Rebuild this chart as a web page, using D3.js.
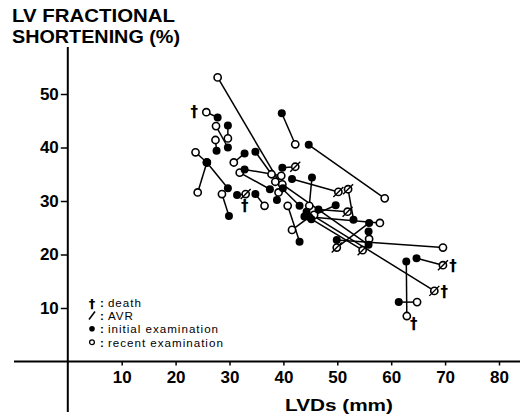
<!DOCTYPE html>
<html>
<head>
<meta charset="utf-8">
<script src="https://cdn.jsdelivr.net/npm/d3@7"></script>
<style>
  body { margin: 0; background: #fff; }
  svg { display: block; }
  .tick text { font-family: "Liberation Sans Narrow", "Liberation Sans", sans-serif; font-weight: bold; font-size: 17px; }
</style>
</head>
<body>
<script>
// LVDs (mm) and fractional shortening (%) per patient
const initialX = [39.9, 27.8, 29.7, 29.7, 27.6, 25.8, 29.7, 25.8, 29.9, 31.4, 34.8, 32.8, 34.8, 32.8, 37.5, 43.0, 55.8, 38.8, 39.7,
  44.7, 39.8, 41.6, 45.3, 53.0, 46.5, 49.7, 55.9, 43.9, 55.8, 45.2, 44.3, 44.8, 43.0, 64.7, 62.8, 61.4, 49.9];
const initialY = [32.4, 45.6, 40.0, 44.1, 39.4, 37.2, 32.4, 37.2, 27.2, 31.1, 31.3, 38.9, 39.2, 35.9, 32.2, 29.1, 21.8, 30.2, 46.4,
  40.5, 36.2, 34.1, 34.4, 26.5, 28.4, 29.2, 25.9, 27.1, 24.3, 26.6, 28.0, 27.0, 22.4, 19.3, 18.7, 11.1, 22.7];
const recentX = [27.8, 25.7, 27.5, 29.7, 27.4, 23.7, 25.8, 24.1, 28.6, 33.0, 36.5, 30.8, 37.8, 39.6, 31.9, 38.5, 39.8, 39.1, 42.2,
  58.8, 42.2, 50.2, 44.8, 52.0, 51.9, 45.7, 49.9, 57.9, 55.9, 54.7, 68.0, 41.6, 40.8, 69.6, 62.9, 64.8, 69.6];
const recentY = [53.1, 46.6, 44.0, 41.7, 41.4, 39.1, 37.2, 31.6, 31.3, 31.3, 29.1, 37.2, 35.0, 34.7, 35.3, 33.6, 33.1, 31.6, 40.6,
  30.5, 36.4, 31.7, 29.1, 32.2, 28.0, 27.4, 21.3, 25.9, 22.9, 20.8, 13.2, 24.6, 29.1, 18.0, 8.5, 11.1, 21.3];
// patient indices with aortic valve replacement / death
const avrPatients = [9, 20, 21, 23, 24, 26, 29, 30, 33];
const deathPatients = [1, 9, 30, 33, 34];

const xTicks = [10, 20, 30, 40, 50, 60, 70, 80];
const yTicks = [10, 20, 30, 40, 50];
const titleLines = ["LV FRACTIONAL", "SHORTENING (%)"];
const xTitle = "LVDs (mm)";
const legendItems = ["death", "AVR", "initial examination", "recent examination"];

const W = 525, H = 415;
const svg = d3.select("body").append("svg").attr("width", W).attr("height", H);

const x = d3.scaleLinear().domain([0, 80]).range([67.8, 499]);
const y = d3.scaleLinear().domain([0, 50]).range([361.5, 94]);

/* ** AXES ** */
svg.append("line").attr("x1", 14).attr("x2", 520).attr("y1", y(0)).attr("y2", y(0))
  .attr("stroke", "#000").attr("stroke-width", 2);
svg.append("line").attr("x1", x(0)).attr("x2", x(0)).attr("y1", 47).attr("y2", 412)
  .attr("stroke", "#000").attr("stroke-width", 2);

const gx = svg.append("g").attr("transform", `translate(0,${y(0)})`)
  .call(d3.axisBottom(x).tickValues(xTicks).tickSize(4).tickPadding(5));
const gy = svg.append("g").attr("transform", `translate(${x(0)},0)`)
  .call(d3.axisLeft(y).tickValues(yTicks).tickSize(7).tickPadding(2));
[gx, gy].forEach(g => {
  g.select(".domain").remove();
  g.selectAll(".tick line").attr("stroke-width", 1.5);
});

/* ** TITLES ** */
svg.selectAll(".ytitle").data(titleLines).enter().append("text")
  .attr("class", "ytitle")
  .attr("x", 12).attr("y", (d, i) => 22 + i * 20.5)
  .attr("textLength", (d, i) => i ? 168 : 163).attr("lengthAdjust", "spacingAndGlyphs")
  .attr("font-family", "Liberation Sans, sans-serif").attr("font-weight", "bold").attr("font-size", 18)
  .text(d => d);

svg.append("text").attr("x", 285).attr("y", 411)
  .attr("textLength", 108).attr("lengthAdjust", "spacingAndGlyphs")
  .attr("font-family", "Liberation Sans, sans-serif").attr("font-weight", "bold").attr("font-size", 17)
  .text(xTitle);

/* ** DATA ** */
const patients = initialX.map((d, i) => ({
  x0: initialX[i], y0: initialY[i], x1: recentX[i], y1: recentY[i],
  avr: avrPatients.includes(i), death: deathPatients.includes(i), i
}));

svg.append("g").selectAll("line").data(patients).enter().append("line")
  .attr("x1", d => x(d.x0)).attr("y1", d => y(d.y0))
  .attr("x2", d => x(d.x1)).attr("y2", d => y(d.y1))
  .attr("stroke", "#000").attr("stroke-width", 1.5);

const recent = svg.append("g").selectAll("g").data(patients).enter().append("g")
  .attr("transform", d => `translate(${x(d.x1)},${y(d.y1)})`);
recent.append("circle").attr("r", 3.6).attr("fill", "#fff").attr("stroke", "#000").attr("stroke-width", 1.6);
recent.filter(d => d.avr).append("line")
  .attr("x1", -5).attr("y1", 5).attr("x2", 5).attr("y2", -5)
  .attr("stroke", "#000").attr("stroke-width", 1.4);

svg.append("g").selectAll("circle").data(patients).enter().append("circle")
  .attr("cx", d => x(d.x0)).attr("cy", d => y(d.y0)).attr("r", 4).attr("fill", "#000");

// dagger placement next to the recent point
const daggerOffset = { 1: [-12, 5], 9: [-1, 17], 30: [10, 6], 33: [10, 6], 34: [7, 13] };
svg.append("g").selectAll("text").data(patients.filter(d => d.death)).enter().append("text")
  .attr("x", d => x(d.x1) + daggerOffset[d.i][0]).attr("y", d => y(d.y1) + daggerOffset[d.i][1])
  .attr("text-anchor", "middle")
  .attr("font-family", "DejaVu Sans, sans-serif").attr("font-weight", "bold").attr("font-size", 15)
  .text("\u2020");

/* ** LEGEND ** */
const lg = svg.append("g").attr("transform", "translate(92,302)");
const rows = lg.selectAll("g").data(legendItems).enter().append("g")
  .attr("transform", (d, i) => `translate(0,${i * 13.4})`);
const lt = rows.append("text").attr("x", 8).attr("y", 4.5)
  .attr("font-family", "Liberation Sans, sans-serif").attr("font-size", 11.6);
lt.append("tspan").attr("font-weight", "bold").text(":");
lt.append("tspan").attr("dx", 4).attr("letter-spacing", 1).text(d => d);
lg.append("text").attr("x", 0).attr("y", 5.5).attr("text-anchor", "middle")
  .attr("font-family", "DejaVu Sans, sans-serif").attr("font-weight", "bold").attr("font-size", 13).text("\u2020");
lg.append("line").attr("x1", -3).attr("y1", 13.4 + 4).attr("x2", 3).attr("y2", 13.4 - 4)
  .attr("stroke", "#000").attr("stroke-width", 1.6);
lg.append("circle").attr("cx", 0).attr("cy", 26.8).attr("r", 2.8).attr("fill", "#000");
lg.append("circle").attr("cx", 0).attr("cy", 40.2).attr("r", 2.4).attr("fill", "#fff")
  .attr("stroke", "#000").attr("stroke-width", 1.3);
</script>
</body>
</html>
